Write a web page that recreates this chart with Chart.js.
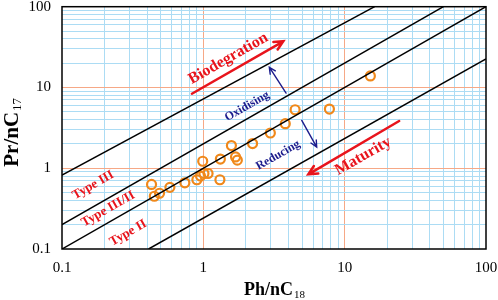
<!DOCTYPE html>
<html>
<head>
<meta charset="utf-8">
<script src="https://cdn.jsdelivr.net/npm/chart.js@4"></script>
<style>
  body { margin: 0; background: #fff; }
</style>
</head>
<body>
<canvas id="myChart" width="498" height="300"></canvas>
<script>
const ctx = document.getElementById("myChart");

// samples
const phC18 = [0.43, 0.45, 0.49, 0.58, 0.74, 0.90, 0.955, 1.01, 1.08, 0.99, 1.31, 1.32, 1.58, 1.69, 1.74, 2.23, 2.98, 3.8, 4.46, 7.8, 15.2];
const prC17 = [0.63, 0.45, 0.49, 0.58, 0.66, 0.72, 0.80, 0.86, 0.86, 1.22, 0.72, 1.30, 1.91, 1.38, 1.26, 2.02, 2.73, 3.56, 5.3, 5.4, 13.9];

// boundary lines: [start x, start y] -> [end x, end y]
const lineStartX = [0.1, 0.1, 0.1, 0.41];
const lineStartY = [0.82, 0.2, 0.1, 0.1];
const lineEndX = [16.3, 50, 100, 100];
const lineEndY = [100, 100, 100, 22.6];

const tickLabels = [0.1, 1, 10, 100];

const RED = "#e8141c";
const NAVY = "#1c1c8c";
const ORANGE = "#f0881a";
const GRID_BLUE = "rgb(172,220,244)";
const GRID_ORANGE = "rgb(246,168,134)";
const SERIF = "'Liberation Serif', 'DejaVu Serif', serif";

// text labels placed in data coords
const notes = [
  { text: "Biodegration", x: 1.5, y: 22.8, color: RED, size: 16 },
  { text: "Oxidising", x: 2.04, y: 5.83, color: NAVY, size: 12 },
  { text: "Reducing", x: 3.38, y: 1.45, color: NAVY, size: 12 },
  { text: "Maturity", x: 13.5, y: 1.41, color: RED, size: 16 },
  { text: "Type III", x: 0.166, y: 0.617, color: RED, size: 13 },
  { text: "Type III/II", x: 0.212, y: 0.312, color: RED, size: 13 },
  { text: "Type II", x: 0.294, y: 0.158, color: RED, size: 13 },
];

const arrows = [
  { x0: 0.83, y0: 8.36, x1: 3.68, y1: 37.3, color: RED, width: 2.5, head: 10 },
  { x0: 24.3, y0: 3.84, x1: 5.53, y1: 0.84, color: RED, width: 2.5, head: 10 },
  { x0: 3.85, y0: 8.51, x1: 2.93, y1: 17.8, color: NAVY, width: 1.4, head: 7 },
  { x0: 4.97, y0: 3.91, x1: 6.34, y1: 1.83, color: NAVY, width: 1.4, head: 7 },
];

const gridValues = [];
for (let e = -1; e < 2; e++) {
  for (let k = 1; k < 10; k++) gridValues.push(+(k * Math.pow(10, e)).toPrecision(3));
}
gridValues.push(100);

const isDecade = (v) => tickLabels.some((t) => Math.abs(t - v) < 1e-9);

const gridColor = (c) => {
  const v = c.tick ? c.tick.value : null;
  if (v == null) return "transparent";
  if (v === 1 || v === 10) return GRID_ORANGE;
  if (isDecade(v)) return "transparent";
  return GRID_BLUE;
};

const lineSets = lineStartX.map((_, i) => ({
  type: "scatter",
  data: [
    { x: lineStartX[i], y: lineStartY[i] },
    { x: lineEndX[i], y: lineEndY[i] },
  ],
  showLine: true,
  borderColor: "#000",
  borderWidth: 1.5,
  pointRadius: 0,
  fill: false,
}));

const extras = {
  id: "extras",
  afterDatasetsDraw(chart) {
    const c = chart.ctx;
    const xs = chart.scales.x;
    const ys = chart.scales.y;
    const area = chart.chartArea;
    // angle of a 1:1 line in pixel space
    const ang = Math.atan2(ys.getPixelForValue(10) - ys.getPixelForValue(1),
                           xs.getPixelForValue(10) - xs.getPixelForValue(1));
    c.save();
    c.strokeStyle = "#000";
    c.lineWidth = 1.5;
    c.strokeRect(area.left, area.top, area.right - area.left, area.bottom - area.top);

    notes.forEach((n) => {
      c.save();
      c.translate(xs.getPixelForValue(n.x), ys.getPixelForValue(n.y));
      c.rotate(ang);
      c.font = `bold ${n.size}px ${SERIF}`;
      c.fillStyle = n.color;
      c.textAlign = "center";
      c.textBaseline = "middle";
      c.fillText(n.text, 0, 0);
      c.restore();
    });

    arrows.forEach((a) => {
      const px0 = xs.getPixelForValue(a.x0), py0 = ys.getPixelForValue(a.y0);
      const px1 = xs.getPixelForValue(a.x1), py1 = ys.getPixelForValue(a.y1);
      const t = Math.atan2(py1 - py0, px1 - px0);
      c.strokeStyle = a.color;
      c.lineWidth = a.width;
      c.lineCap = "round";
      c.beginPath();
      c.moveTo(px0, py0);
      c.lineTo(px1, py1);
      c.moveTo(px1 - a.head * Math.cos(t - 0.45), py1 - a.head * Math.sin(t - 0.45));
      c.lineTo(px1, py1);
      c.lineTo(px1 - a.head * Math.cos(t + 0.45), py1 - a.head * Math.sin(t + 0.45));
      c.stroke();
    });

    // axis titles with subscripts
    c.fillStyle = "#000";
    c.textBaseline = "alphabetic";
    c.textAlign = "left";
    const cx = (area.left + area.right) / 2;
    c.font = `bold 18px ${SERIF}`;
    const w1 = c.measureText("Ph/nC").width;
    c.font = `11px ${SERIF}`;
    const w2 = c.measureText("18").width;
    let sx = cx - (w1 + w2) / 2;
    c.font = `bold 18px ${SERIF}`;
    c.fillText("Ph/nC", sx, 295);
    c.font = `11px ${SERIF}`;
    c.fillText("18", sx + w1 + 1, 298);

    c.save();
    c.translate(18, (area.top + area.bottom) / 2 + 5);
    c.rotate(-Math.PI / 2);
    c.font = `bold 21px ${SERIF}`;
    const w3 = c.measureText("Pr/nC").width;
    c.font = `13px ${SERIF}`;
    const w4 = c.measureText("17").width;
    sx = -(w3 + w4) / 2;
    c.font = `bold 21px ${SERIF}`;
    c.fillText("Pr/nC", sx, 0);
    c.font = `13px ${SERIF}`;
    c.fillText("17", sx + w3 + 1, 3);
    c.restore();

    c.restore();
  },
};

const scaleBase = {
  type: "logarithmic",
  min: 0.1,
  max: 100,
  afterBuildTicks: (scale) => {
    scale.ticks = gridValues.map((v) => ({ value: v }));
  },
  grid: { color: gridColor, lineWidth: 1, drawTicks: false },
  border: { display: false },
  ticks: {
    autoSkip: false,
    maxRotation: 0,
    color: "#000",
    font: { family: SERIF, size: 15 },
    callback: (v) => (isDecade(v) ? String(v) : ""),
  },
};

const myChart = new Chart(ctx, {
  type: "scatter",
  data: {
    datasets: [
      ...lineSets,
      {
        label: "samples",
        data: phC18.map((x, i) => ({ x: x, y: prC17[i] })),
        pointRadius: 4.5,
        pointBorderWidth: 2.2,
        pointBorderColor: ORANGE,
        pointBackgroundColor: "rgba(0,0,0,0)",
      },
    ],
  },
  options: {
    responsive: false,
    animation: false,
    layout: { padding: { top: 6, right: 12, left: 0, bottom: 0 } },
    scales: {
      x: {
        ...scaleBase,
        afterFit: (s) => { s.height = 51; s.paddingLeft = 0; s.paddingRight = 0; },
        ticks: { ...scaleBase.ticks, padding: 10 },
      },
      y: {
        ...scaleBase,
        afterFit: (s) => { s.width = 62; s.paddingTop = 0; s.paddingBottom = 0; },
        ticks: { ...scaleBase.ticks, padding: 11 },
      },
    },
    plugins: {
      legend: { display: false },
      tooltip: { enabled: false },
    },
  },
  plugins: [extras],
});
</script>
</body>
</html>
